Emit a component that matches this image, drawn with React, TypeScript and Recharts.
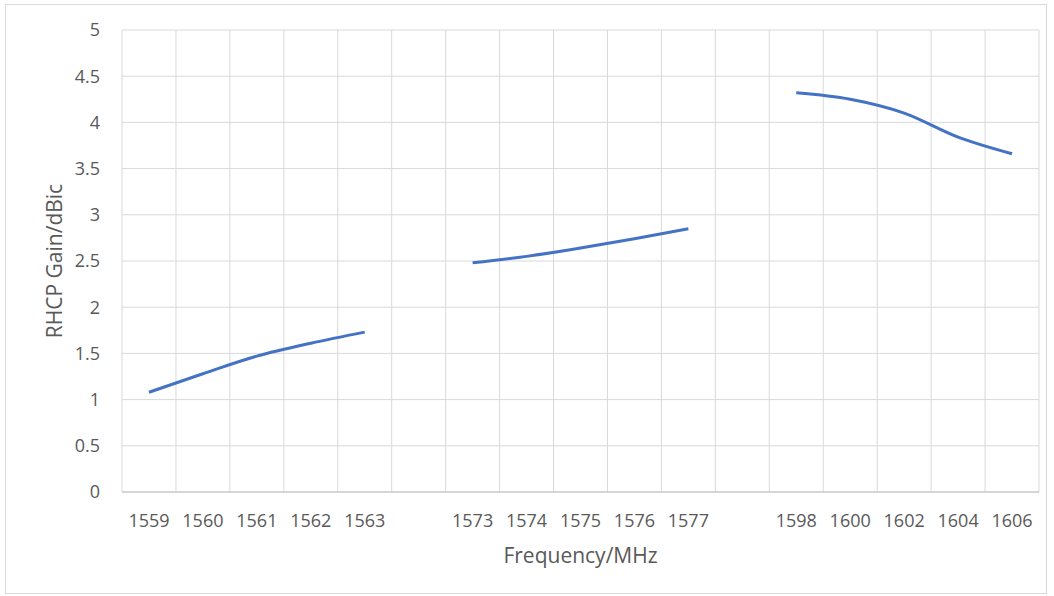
import { LineChart, Line, XAxis, YAxis, CartesianGrid } from 'recharts'

// category slots along the x axis, '' = empty gap slot
const freqLabels = [
  '1559', '1560', '1561', '1562', '1563', '',
  '1573', '1574', '1575', '1576', '1577', '',
  '1598', '1600', '1602', '1604', '1606',
]

const gain: (number | null)[] = [
  1.08, 1.28, 1.47, 1.61, 1.73, null,
  2.48, 2.55, 2.64, 2.74, 2.85, null,
  4.32, 4.25, 4.1, 3.84, 3.66,
]

const yTicks = [0, 0.5, 1, 1.5, 2, 2.5, 3, 3.5, 4, 4.5, 5]

const data = freqLabels.map((label, i) => ({ x: i + 0.5, label, gain: gain[i] }))
const labelTicks = freqLabels.map((_, i) => i + 0.5)

const FONT = '"Open Sans", sans-serif'
const TEXT = '#595959'

export default function App() {
  return (
    <div style={{ position: 'absolute', left: 0, top: 0, width: 1054, height: 596, background: '#fff' }}>
      <div
        style={{
          position: 'absolute',
          left: 5,
          top: 4,
          width: 1040,
          height: 588,
          border: '1px solid #d9d9d9',
          pointerEvents: 'none',
        }}
      />
      <LineChart
        width={1054}
        height={596}
        data={data}
        margin={{ top: 30, right: 15, bottom: 30, left: 50 }}
        style={{ fontFamily: FONT }}
      >
        <CartesianGrid
          stroke="#d9d9d9"
          verticalCoordinatesGenerator={({ offset }: any) =>
            Array.from({ length: freqLabels.length + 1 }, (_, i) => offset.left + (i * offset.width) / freqLabels.length)
          }
        />
        <XAxis
          type="number"
          dataKey="x"
          domain={[0, freqLabels.length]}
          ticks={labelTicks}
          interval={0}
          tickFormatter={(v: number) => freqLabels[Math.floor(v)]}
          tickLine={false}
          axisLine={{ stroke: '#bfbfbf' }}
          tickMargin={16}
          height={74}
          tick={{ fill: TEXT, fontSize: 18 }}
          label={{ value: 'Frequency/MHz', position: 'insideBottom', offset: 3, fill: TEXT, fontSize: 21 }}
        />
        <YAxis
          type="number"
          domain={[0, 5]}
          ticks={yTicks}
          interval={0}
          width={72}
          tickLine={false}
          axisLine={false}
          tickMargin={16}
          tick={{ fill: TEXT, fontSize: 18 }}
          label={{
            value: 'RHCP Gain/dBic',
            angle: -90,
            position: 'insideLeft',
            offset: 5,
            fill: TEXT,
            fontSize: 21,
            style: { textAnchor: 'middle' },
          }}
        />
        <Line
          type="monotone"
          dataKey="gain"
          stroke="#4472c4"
          strokeWidth={3}
          dot={false}
          connectNulls={false}
          isAnimationActive={false}
        />
      </LineChart>
    </div>
  )
}
